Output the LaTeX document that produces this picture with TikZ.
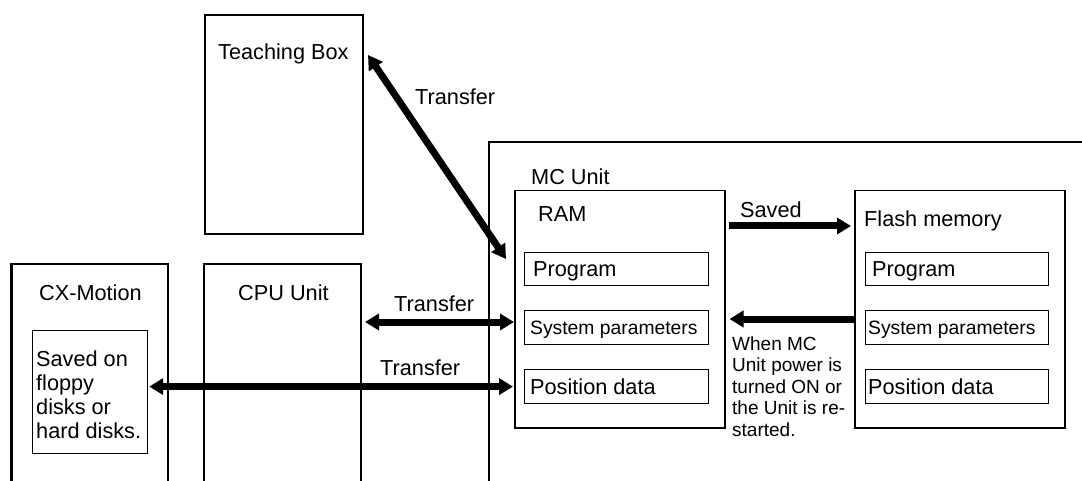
\documentclass[tikz,border=0pt]{standalone}
\usepackage{fontspec}
\setmainfont{Liberation Sans}
\usetikzlibrary{arrows.meta,calc}
\begin{document}
\begin{tikzpicture}[x=1pt,y=-1pt,
  outer/.style={line width=2.2pt},
  outerbox/.style={draw,line width=2.2pt,inner sep=0pt,anchor=north west},
  midbox/.style={draw,line width=1.5pt,inner sep=0pt,anchor=north west},
  inbox/.style={draw,line width=1.2pt,inner sep=0pt,anchor=north west},
  lbl/.style={inner sep=0pt,anchor=base west,font=\fontsize{21.7}{26}\selectfont},
  slbl/.style={inner sep=0pt,anchor=base west,font=\fontsize{19.3}{22}\selectfont},
  onearrow/.style={line width=7pt,-{Triangle[length=14pt,width=16pt]}},
  dblarrow/.style={line width=7pt,{Triangle[length=14pt,width=16pt]}-{Triangle[length=14pt,width=16pt]}},
]
\useasboundingbox (0,0) rectangle (1082,481);

% Teaching box
\node[outerbox,minimum width=158pt,minimum height=219pt] (teach) at (204,14) {};
\node[lbl] (teachl) at (218,60) {Teaching Box};

% CX-Motion (open at the bottom)
\draw[outer] (11.5,495) -- (11.5,264) -- (168,264) -- (168,495);
\node[lbl] (cxl) at (39,300) {CX-Motion};
\node[inbox,minimum width=115pt,minimum height=123pt] (cxin) at (32,330) {};
\node[inner sep=0pt,anchor=north west,align=left,
      font=\fontsize{21.7}{24}\selectfont] (cxtext) at (36,350.5)
      {Saved on\\floppy\\disks or\\hard disks.};

% CPU Unit (open at the bottom)
\draw[outer] (204,495) -- (204,264) -- (361,264) -- (361,495);
\node[lbl] (cpul) at (238,301) {CPU Unit};

% MC Unit outer frame (open right and bottom)
\draw[outer] (489,495) -- (489,142) -- (1095,142);
\node[lbl] (mcl) at (531,185) {MC Unit};

% RAM
\node[midbox,minimum width=210pt,minimum height=237pt] (ram) at (514,190) {};
\node[lbl] (raml) at (538,222) {RAM};
\node[inbox,minimum width=184pt,minimum height=33pt] (rprog) at (524,252) {};
\node[inbox,minimum width=184pt,minimum height=34pt] (rsys) at (524,310) {};
\node[inbox,minimum width=184pt,minimum height=34pt] (rpos) at (524,369) {};
\node[lbl] (rprogl) at (533,276.5) {Program};
\node[slbl] (rsysl) at (530,334) {System parameters};
\node[lbl] (rposl) at (530,394) {Position data};

% Flash memory
\node[midbox,minimum width=210pt,minimum height=237pt] (flash) at (854,190) {};
\node[lbl] (flashl) at (864,227) {Flash memory};
\node[inbox,minimum width=183pt,minimum height=33pt] (fprog) at (865,252) {};
\node[inbox,minimum width=183pt,minimum height=34pt] (fsys) at (865,310) {};
\node[inbox,minimum width=183pt,minimum height=34pt] (fpos) at (865,369) {};
\node[lbl] (fprogl) at (872,276.5) {Program};
\node[slbl] (fsysl) at (868,334) {System parameters};
\node[lbl] (fposl) at (868,394) {Position data};

% connectors
\coordinate (tA) at (368,55);
\coordinate (tB) at (506,259);
\draw[dblarrow] (tA) -- (tB);
\node[lbl] (t1) at (415,105) {Transfer};

\coordinate (cpuA) at (365,322);
\draw[dblarrow] (cpuA) -- (ram.west |- cpuA);
\node[lbl] (t2) at (394,312) {Transfer};

\draw[dblarrow] ([xshift=1pt]cxin.east |- rpos.west) -- ([xshift=-1pt]ram.west |- rpos.west);
\node[lbl] (t3) at (380,375) {Transfer};

\coordinate (sv) at (0,226);
\draw[onearrow] ([xshift=3pt]ram.east |- sv) -- ([xshift=-3pt]flash.west |- sv);
\node[lbl] (savedl) at (740,218) {Saved};

\coordinate (rt) at (0,319);
\draw[onearrow] (flash.west |- rt) -- ([xshift=4pt]ram.east |- rt);
\node[inner sep=0pt,anchor=north west,align=left,
      font=\fontsize{19}{21.5}\selectfont] (whenl) at (732,336.5)
      {When MC\\Unit power is\\turned ON or\\the Unit is re-\\started.};
\end{tikzpicture}
\end{document}
